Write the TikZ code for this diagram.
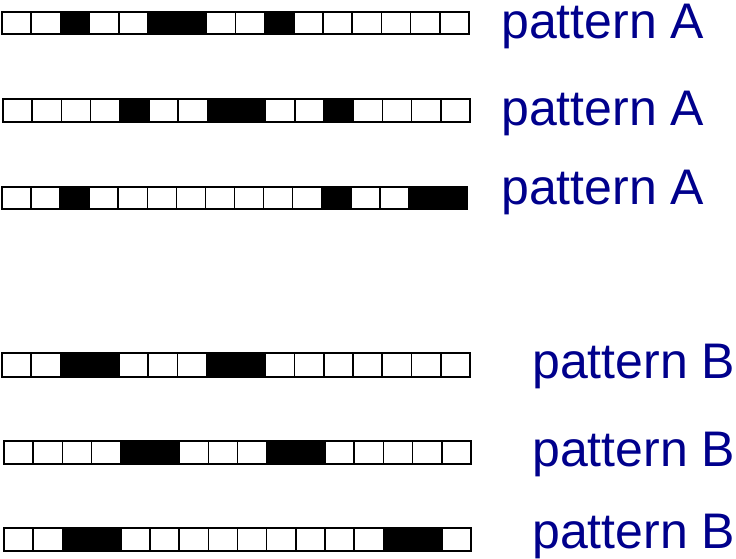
\documentclass[tikz,border=0pt]{standalone}
\usepackage{fontspec}
\setmainfont{Liberation Sans}
\definecolor{labelblue}{RGB}{0,0,140}
\tikzset{
  cellbox/.style={draw=black,line width=1.6pt},
  patlabel/.style={anchor=base west,inner sep=0pt,text=labelblue,font=\fontsize{50}{60}\selectfont}
}
\newcommand\patrow[5]{%
  \pgfmathsetmacro\cw{(#2-#1)/16}%
  \foreach \c [count=\i from 0] in {#5} {
    \pgfmathsetmacro\xa{#1+\i*\cw}
    \pgfmathsetmacro\xb{#1+(\i+1)*\cw}
    \ifnum\c=1
      \filldraw[cellbox,fill=black] (\xa,#3) rectangle (\xb,#4);
    \else
      \filldraw[cellbox,fill=white] (\xa,#3) rectangle (\xb,#4);
    \fi
  }}
\begin{document}
\begin{tikzpicture}[x=1pt,y=-1pt]
\useasboundingbox (0,0) rectangle (736,558);
\patrow{2}{469}{12}{34}{0,0,1,0,0,1,1,0,0,1,0,0,0,0,0,0}
\patrow{3}{470}{99}{122}{0,0,0,0,1,0,0,1,1,0,0,1,0,0,0,0}
\patrow{2}{467}{187}{209}{0,0,1,0,0,0,0,0,0,0,0,1,0,0,1,1}
\patrow{2}{470}{353}{377}{0,0,1,1,0,0,0,1,1,0,0,0,0,0,0,0}
\patrow{4}{471}{441}{464}{0,0,0,0,1,1,0,0,0,1,1,0,0,0,0,0}
\patrow{4}{471}{528}{551}{0,0,1,1,0,0,0,0,0,0,0,0,0,1,1,0}
\node[patlabel] (la1) at (501,38) {pattern A};
\node[patlabel] (la2) at (501,125) {pattern A};
\node[patlabel] (la3) at (501,204) {pattern A};
\node[patlabel] (lb1) at (532,378) {pattern B};
\node[patlabel] (lb2) at (532,466) {pattern B};
\node[patlabel] (lb3) at (532,548) {pattern B};
\end{tikzpicture}
\end{document}
